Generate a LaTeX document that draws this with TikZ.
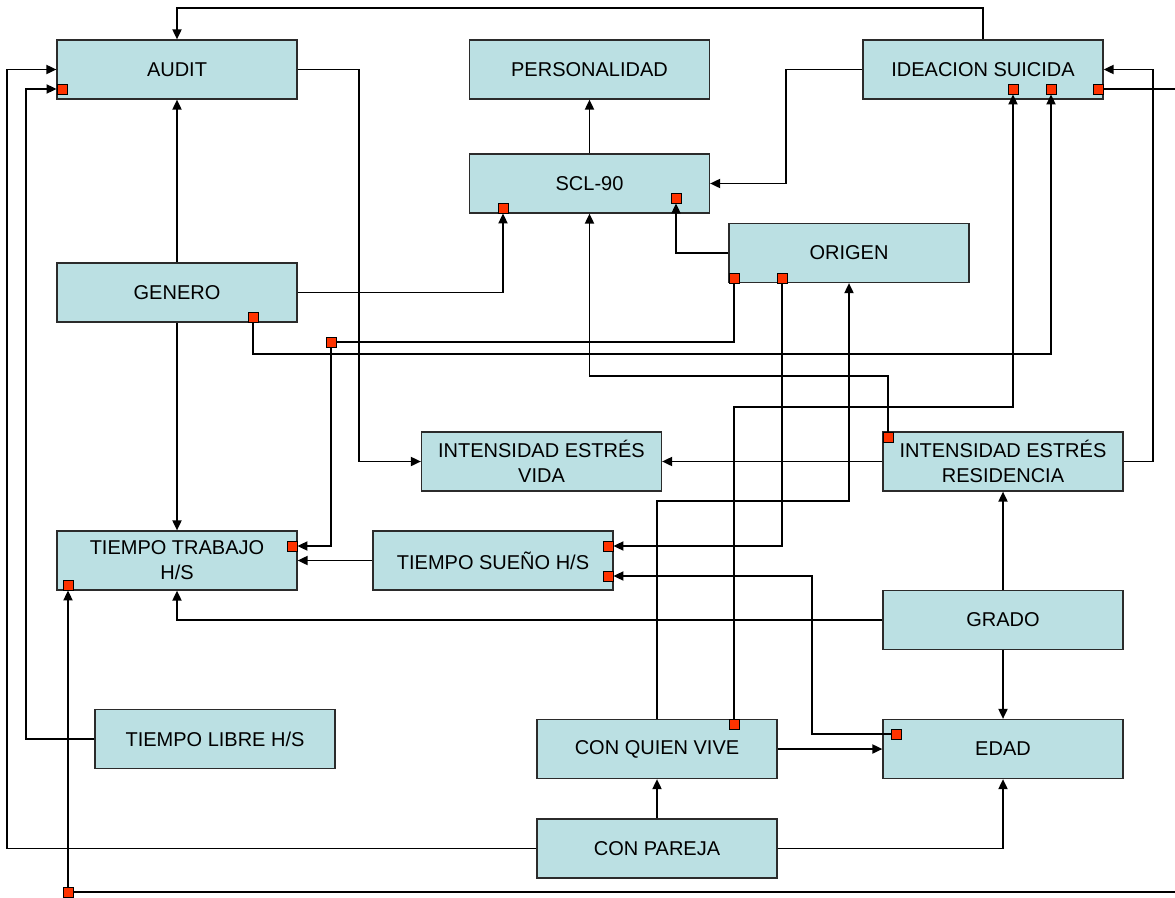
\documentclass[tikz,border=0pt]{standalone}
\usepackage{fontspec}
\setmainfont{Liberation Sans}
\usetikzlibrary{arrows.meta}
\definecolor{boxfill}{HTML}{BBE0E3}
\definecolor{boxline}{HTML}{2B2B2B}
\definecolor{mkred}{HTML}{FF3300}
\begin{document}
\begin{tikzpicture}[x=1pt,y=-1pt,
  box/.style={draw=boxline, fill=boxfill, line width=1.2pt, minimum width=240pt, minimum height=59pt, inner sep=0pt, align=center, font=\fontsize{20}{25}\selectfont},
  mk/.style={draw=black, fill=mkred, line width=0.8pt, minimum size=10pt, inner sep=0pt},
  con/.style={line width=1.8pt, draw=black},
  arr/.style={con, -{Triangle[length=10pt,width=9pt]}}]
\useasboundingbox (0,0) rectangle (1175,897);
\clip (0,0) rectangle (1175,897);
\fill[white] (0,0) rectangle (1175,897);
% boxes
\node[box] (AUDIT) at (177,69.5) {AUDIT};
\node[box] (PERS) at (589.5,69.5) {PERSONALIDAD};
\node[box] (IDEA) at (983,69.5) {IDEACION SUICIDA};
\node[box] (SCL) at (589.5,183.5) {SCL-90};
\node[box] (ORI) at (849,253) {ORIGEN};
\node[box] (GEN) at (177,292.5) {GENERO};
\node[box] (IEV) at (541.5,461.5) {INTENSIDAD ESTRÉS\\VIDA};
\node[box] (IER) at (1003,461.5) {INTENSIDAD ESTRÉS\\RESIDENCIA};
\node[box] (TT) at (177,560.5) {TIEMPO TRABAJO\\H/S};
\node[box] (TS) at (493,560.5) {TIEMPO SUEÑO H/S};
\node[box] (GRADO) at (1003,620) {GRADO};
\node[box] (TL) at (215,739) {TIEMPO LIBRE H/S};
\node[box] (CQV) at (657,749) {CON QUIEN VIVE};
\node[box] (EDAD) at (1003,749) {EDAD};
\node[box] (CP) at (657,848.5) {CON PAREJA};
% markers
\node[mk] (mA) at (62,89) {};
\node[mk] (mI1) at (1013,89) {};
\node[mk] (mI2) at (1051,89) {};
\node[mk] (mI3) at (1098,89) {};
\node[mk] (mS1) at (503,208) {};
\node[mk] (mS2) at (676,198) {};
\node[mk] (mO1) at (734,278) {};
\node[mk] (mO2) at (782,278) {};
\node[mk] (mG) at (253,317) {};
\node[mk] (mF) at (331,342) {};
\node[mk] (mIER) at (888,437) {};
\node[mk] (mTT1) at (292,546) {};
\node[mk] (mTT2) at (68,585) {};
\node[mk] (mTS1) at (608,546) {};
\node[mk] (mTS2) at (608,576) {};
\node[mk] (mC) at (734,724) {};
\node[mk] (mE) at (896,734) {};
\node[mk] (mB) at (68,892) {};
% rails
\coordinate (yTop) at (0,8);
\coordinate (xL1) at (7,0);
\coordinate (xL2) at (26,0);
\coordinate (x359) at (359,0);
\coordinate (x786) at (786,0);
\coordinate (y376) at (0,376);
\coordinate (y354) at (0,354);
\coordinate (y501) at (0,501);
\coordinate (y407) at (0,407);
\coordinate (x1153) at (1153,0);
\coordinate (xR) at (1195,0);
\coordinate (x812) at (812,0);
% connectors
\draw[arr] (IDEA.north) -- (IDEA.north |- yTop) -| (AUDIT.north);
\draw[arr] (CP.west) -- (CP.west -| xL1) |- (AUDIT.west);
\draw[arr] (TL.west) -- (TL.west -| xL2) |- (mA.west);
\draw[arr] (GEN.north) -- (AUDIT.south);
\draw[arr] (AUDIT.east) -- (AUDIT.east -| x359) |- (IEV.west);
\draw[arr] (SCL.north) -- (PERS.south);
\draw[arr] (IDEA.west) -- (IDEA.west -| x786) |- (SCL.east);
\draw[arr] (GEN.east) -| (mS1.south);
\draw[arr] (ORI.west) -| (mS2.south);
\draw[arr] (mIER.north) -- (mIER.north |- y376) -| (SCL.south);
\draw[arr] (mG.south) -- (mG.south |- y354) -| (mI2.south);
\draw[con] (mO1.south) |- (mF.east);
\draw[arr] (mF.south) |- (mTT1.east);
\draw[arr] (mO2.south) |- (mTS1.east);
\draw[arr] (CQV.north) -- (CQV.north |- y501) -| (ORI.south);
\draw[arr] (mC.north) -- (mC.north |- y407) -| (mI1.south);
\draw[arr] (IER.east) -- (IER.east -| x1153) |- (IDEA.east);
\draw[con] (mI3.east) -- (mI3.east -| xR) |- (mB.east);
\draw[arr] (mB.north) -- (mTT2.south);
\draw[arr] (TS.west) -- (TT.east);
\draw[arr] (GRADO.west) -| (TT.south);
\draw[arr] (GRADO.north) -- (IER.south);
\draw[arr] (GRADO.south) -- (EDAD.north);
\draw[arr] (mE.west) -- (mE.west -| x812) |- (mTS2.east);
\draw[arr] (CQV.east) -- (EDAD.west);
\draw[arr] (CP.north) -- (CQV.south);
\draw[arr] (CP.east) -| (EDAD.south);
\draw[arr] (GEN.south) -- (TT.north);
\draw[arr] (IER.west) -- (IEV.east);
\end{tikzpicture}
\end{document}
